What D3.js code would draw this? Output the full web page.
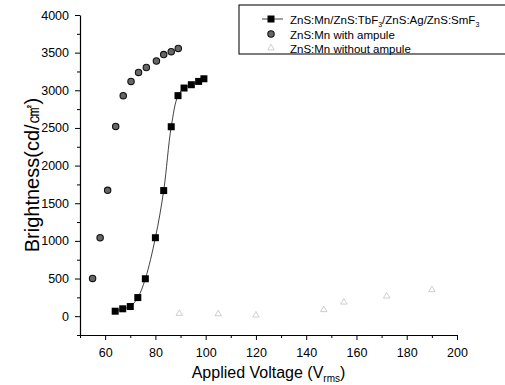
<!DOCTYPE html>
<html>
<head>
<meta charset="utf-8">
<script src="https://cdn.jsdelivr.net/npm/d3@7"></script>
<style>
  body { margin: 0; background: #fff; }
  svg { display: block; font-family: "Liberation Sans", Arial, sans-serif; }
</style>
</head>
<body>
<svg id="chart"></svg>
<script>
// ZnS:Mn/ZnS:TbF3/ZnS:Ag/ZnS:SmF3 (squares, with fitted line)
const multiVoltage = [64, 67, 70, 73, 76, 80, 83.3, 86.3, 89, 91.4, 94.3, 97.2, 99.3];
const multiBright = [66, 98, 128, 247, 497, 1042, 1668, 2516, 2929, 3030, 3074, 3118, 3153];

// ZnS:Mn with ampule (circles)
const ampVoltage = [55, 58, 61, 64.2, 67.2, 70.3, 73.3, 76.4, 80.4, 83.3, 86.3, 89.1];
const ampBright = [501, 1042, 1672, 2520, 2929, 3118, 3237, 3303, 3389, 3474, 3513, 3556];

// ZnS:Mn without ampule (faint triangles)
const noAmpVoltage = [89.5, 105, 120, 147, 155, 172, 190];
const noAmpBright = [35, 30, 13, 85, 185, 265, 350];

const xTicks = [60, 80, 100, 120, 140, 160, 180, 200];
const yTicks = [0, 500, 1000, 1500, 2000, 2500, 3000, 3500, 4000];

const width = 505;
const height = 385;
const margin = {top: 15, right: 48, bottom: 50, left: 80};

const svg = d3.select('#chart').attr('width', width).attr('height', height);

const x = d3.scaleLinear()
  .domain([50, 200])
  .range([margin.left, width - margin.right]);

const y = d3.scaleLinear()
  .domain([-250, 4000])
  .range([height - margin.bottom, margin.top]);

const zip = (xs, ys) => xs.map((v, i) => [v, ys[i]]);
const multi = zip(multiVoltage, multiBright);
const amp = zip(ampVoltage, ampBright);
const noAmp = zip(noAmpVoltage, noAmpBright);

// axes
const xAxis = g => g
  .attr('transform', `translate(0,${y.range()[0]})`)
  .call(d3.axisBottom(x).tickValues(xTicks).tickSize(5).tickPadding(8).tickSizeOuter(0))
  .call(g_ => g_.selectAll('text').attr('font-size', 12.5).attr('font-family', '"Liberation Sans", Arial, sans-serif'))
  .call(g_ => g_.select('.domain').attr('stroke-width', 1.2));

const xMinor = g => g
  .attr('transform', `translate(0,${y.range()[0]})`)
  .call(d3.axisBottom(x).tickValues(d3.range(50, 201, 10).filter(v => v % 20 !== 0)).tickSize(3).tickFormat('').tickSizeOuter(0))
  .call(g_ => g_.select('.domain').remove());

const yAxis = g => g
  .attr('transform', `translate(${margin.left},0)`)
  .call(d3.axisLeft(y).tickValues(yTicks).tickFormat(d3.format('d')).tickSize(5).tickPadding(6).tickSizeOuter(0))
  .call(g_ => g_.selectAll('text').attr('font-size', 12.5).attr('font-family', '"Liberation Sans", Arial, sans-serif'))
  .call(g_ => g_.select('.domain').attr('stroke-width', 1.2));

const yMinor = g => g
  .attr('transform', `translate(${margin.left},0)`)
  .call(d3.axisLeft(y).tickValues(d3.range(-250, 4000, 500)).tickSize(3).tickFormat('').tickSizeOuter(0))
  .call(g_ => g_.select('.domain').remove());

svg.append('g').call(xMinor);
svg.append('g').call(yMinor);
svg.append('g').call(xAxis);
svg.append('g').call(yAxis);

// axis titles
const xTitle = svg.append('text')
  .attr('x', (x.range()[0] + x.range()[1]) / 2)
  .attr('y', 378)
  .attr('text-anchor', 'middle')
  .attr('font-size', 16);
xTitle.append('tspan').text('Applied Voltage (V');
xTitle.append('tspan').attr('font-size', 10).attr('dy', 4).text('rms');
xTitle.append('tspan').attr('dy', -4).text(')');

svg.append('text')
  .attr('transform', `translate(39,${(y.range()[0] + y.range()[1]) / 2}) rotate(-90)`)
  .attr('text-anchor', 'middle')
  .attr('font-size', 20)
  .text('Brightness(cd/㎠)');

// fitted line for the multilayer device
const line = d3.line()
  .x(d => x(d[0]))
  .y(d => y(d[1]))
  .curve(d3.curveCatmullRom);

svg.append('path')
  .datum(multi)
  .attr('fill', 'none')
  .attr('stroke', '#111')
  .attr('stroke-width', 0.8)
  .attr('d', line);

const triangle = d3.symbol().type(d3.symbolTriangle).size(18);

svg.append('g')
  .selectAll('path')
  .data(noAmp)
  .join('path')
  .attr('transform', d => `translate(${x(d[0])},${y(d[1])})`)
  .attr('d', triangle)
  .attr('fill', 'none')
  .attr('stroke', '#bbb')
  .attr('stroke-width', 0.7);

svg.append('g')
  .selectAll('circle')
  .data(amp)
  .join('circle')
  .attr('cx', d => x(d[0]))
  .attr('cy', d => y(d[1]))
  .attr('r', 3.2)
  .attr('fill', '#666')
  .attr('stroke', '#111')
  .attr('stroke-width', 1.1);

svg.append('g')
  .selectAll('rect')
  .data(multi)
  .join('rect')
  .attr('x', d => x(d[0]) - 3.5)
  .attr('y', d => y(d[1]) - 3.5)
  .attr('width', 7)
  .attr('height', 7)
  .attr('fill', '#000');

// legend
const legend = svg.append('g');
legend.append('rect')
  .attr('x', 239).attr('y', 5)
  .attr('width', 280).attr('height', 49)
  .attr('fill', '#fff')
  .attr('stroke', '#111')
  .attr('stroke-width', 1.1);

const sx = 271;
legend.append('line')
  .attr('x1', sx - 9).attr('x2', sx + 12)
  .attr('y1', 19).attr('y2', 19)
  .attr('stroke', '#111').attr('stroke-width', 0.8);
legend.append('rect')
  .attr('x', sx - 3.5).attr('y', 15.5)
  .attr('width', 7).attr('height', 7)
  .attr('fill', '#000');
legend.append('circle')
  .attr('cx', sx).attr('cy', 34).attr('r', 3.2)
  .attr('fill', '#666').attr('stroke', '#111').attr('stroke-width', 1.1);
legend.append('path')
  .attr('transform', `translate(${sx},48)`)
  .attr('d', triangle)
  .attr('fill', 'none').attr('stroke', '#bbb').attr('stroke-width', 0.7);

const t1 = legend.append('text').attr('x', 290).attr('y', 23.5).attr('font-size', 11.5);
t1.append('tspan').text('ZnS:Mn/ZnS:TbF');
t1.append('tspan').attr('font-size', 7).attr('dy', 3).text('3');
t1.append('tspan').attr('dy', -3).text('/ZnS:Ag/ZnS:SmF');
t1.append('tspan').attr('font-size', 7).attr('dy', 3).text('3');

legend.append('text').attr('x', 290).attr('y', 38.5).attr('font-size', 11.5).text('ZnS:Mn with ampule');
legend.append('text').attr('x', 290).attr('y', 53).attr('font-size', 11.5).text('ZnS:Mn without ampule');
</script>
</body>
</html>
